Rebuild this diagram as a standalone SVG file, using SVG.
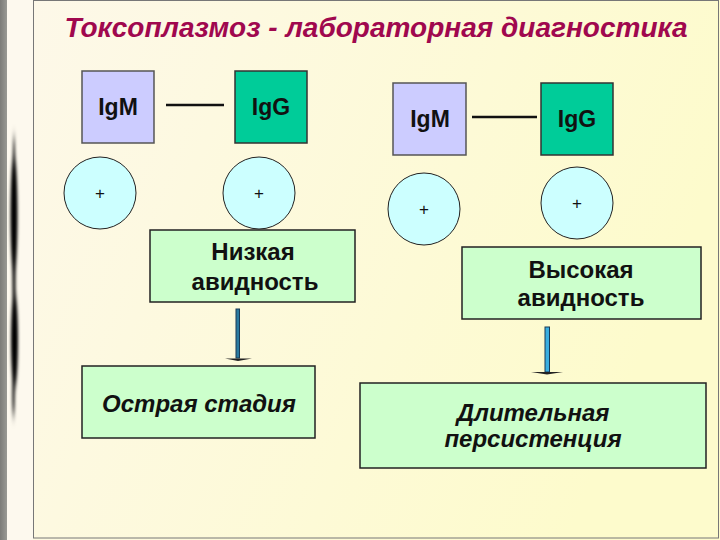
<svg xmlns="http://www.w3.org/2000/svg" width="720" height="540" viewBox="0 0 720 540">
<defs>
<linearGradient id="bg" x1="0" y1="0" x2="1" y2="0.3">
<stop offset="0" stop-color="#fdf8ea"/>
<stop offset="1" stop-color="#fdfbcc"/>
</linearGradient>
<linearGradient id="strip" x1="0" y1="0" x2="1" y2="0">
<stop offset="0" stop-color="#7c7c78"/>
<stop offset="1" stop-color="#9a9a94"/>
</linearGradient>
<filter id="blur" x="-1" y="-0.2" width="3" height="1.4">
<feGaussianBlur stdDeviation="1.6 6"/>
</filter>
<style>
.t{font-family:"Liberation Sans",Arial,sans-serif;font-weight:bold;fill:#111;text-anchor:middle}
.ig{font-size:23px}
.pl{font-size:17px;font-weight:normal}
.big{font-size:24px}
.it{font-style:italic}
.m{fill:#ccccff;stroke:#555;stroke-width:1.5}
.g{fill:#00cc99;stroke:#333;stroke-width:1.5}
.c{fill:#ccffff;stroke:#222;stroke-width:1}
.b{fill:#ccffcc;stroke:#222;stroke-width:1.5}
.ln{stroke:#111;stroke-width:2.5;fill:none}
.head{fill:#222}
</style>
</defs>
<rect x="0" y="0" width="720" height="540" fill="url(#bg)"/>
<rect x="0" y="0" width="7" height="540" fill="url(#strip)"/>
<rect x="7" y="0" width="26" height="540" fill="#fdf9ee"/>
<g filter="url(#blur)" fill="#000">
<ellipse cx="14" cy="215" rx="3.5" ry="60"/>
<ellipse cx="14.5" cy="340" rx="3.5" ry="48"/>
<ellipse cx="14" cy="280" rx="1.5" ry="30"/>
<ellipse cx="14" cy="160" rx="1" ry="25"/>
<ellipse cx="13.5" cy="395" rx="1.2" ry="22"/>
</g>
<rect x="33.5" y="0.5" width="685" height="537.5" fill="none" stroke="#777" stroke-width="1"/>

<text x="376" y="37" font-family="'Liberation Sans',Arial,sans-serif" font-size="28" font-weight="bold" font-style="italic" fill="#a0084e" text-anchor="middle">Токсоплазмоз - лабораторная диагностика</text>

<g id="connectors">
<line class="ln" x1="166" y1="105" x2="224" y2="105"/>
<line class="ln" x1="472" y1="117" x2="537" y2="117"/>
<g id="arrow-left">
<rect x="236" y="309" width="3.5" height="49" fill="#2a7aa0" stroke="#1a3a55" stroke-width="1"/>
<path class="head" d="M225,358.5 L252,358.5 L238,361 Z"/>
</g>
<g id="arrow-right">
<rect x="545" y="327" width="4.5" height="45" fill="#3aaee0" stroke="#1a3a55" stroke-width="1"/>
<path class="head" d="M531,372 L563,372 L547,374.5 Z"/>
</g>
</g>

<g id="igm-left"><rect class="m" x="82" y="71" width="72" height="72"/><text class="t ig" x="118" y="115">IgM</text></g>
<g id="igg-left"><rect class="g" x="235" y="71" width="72" height="72"/><text class="t ig" x="271" y="115">IgG</text></g>
<g id="plus-left-1"><circle class="c" cx="100" cy="193" r="36"/><text class="t pl" x="100" y="199">+</text></g>
<g id="plus-left-2"><circle class="c" cx="259" cy="193" r="36"/><text class="t pl" x="259" y="199">+</text></g>
<g id="low-avidity"><rect class="b" x="150" y="230" width="205" height="72"/><text class="t big" x="253" y="260">Низкая</text><text class="t big" x="255" y="290">авидность</text></g>
<g id="acute"><rect class="b" x="82" y="366" width="233" height="72"/><text class="t big it" x="199" y="412">Острая стадия</text></g>

<g id="igm-right"><rect class="m" x="393" y="83" width="73" height="72"/><text class="t ig" x="430" y="127">IgM</text></g>
<g id="igg-right"><rect class="g" x="541" y="83" width="72" height="72"/><text class="t ig" x="577" y="127">IgG</text></g>
<g id="plus-right-1"><circle class="c" cx="424" cy="209" r="36"/><text class="t pl" x="424" y="215">+</text></g>
<g id="plus-right-2"><circle class="c" cx="577" cy="203" r="36"/><text class="t pl" x="577" y="209">+</text></g>
<g id="high-avidity"><rect class="b" x="462" y="247" width="239" height="72"/><text class="t big" x="581" y="278">Высокая</text><text class="t big" x="581" y="306">авидность</text></g>
<g id="persistence"><rect class="b" x="360" y="383" width="346" height="85"/><text class="t big it" x="533" y="421">Длительная</text><text class="t big it" x="533" y="447">персистенция</text></g>
</svg>
